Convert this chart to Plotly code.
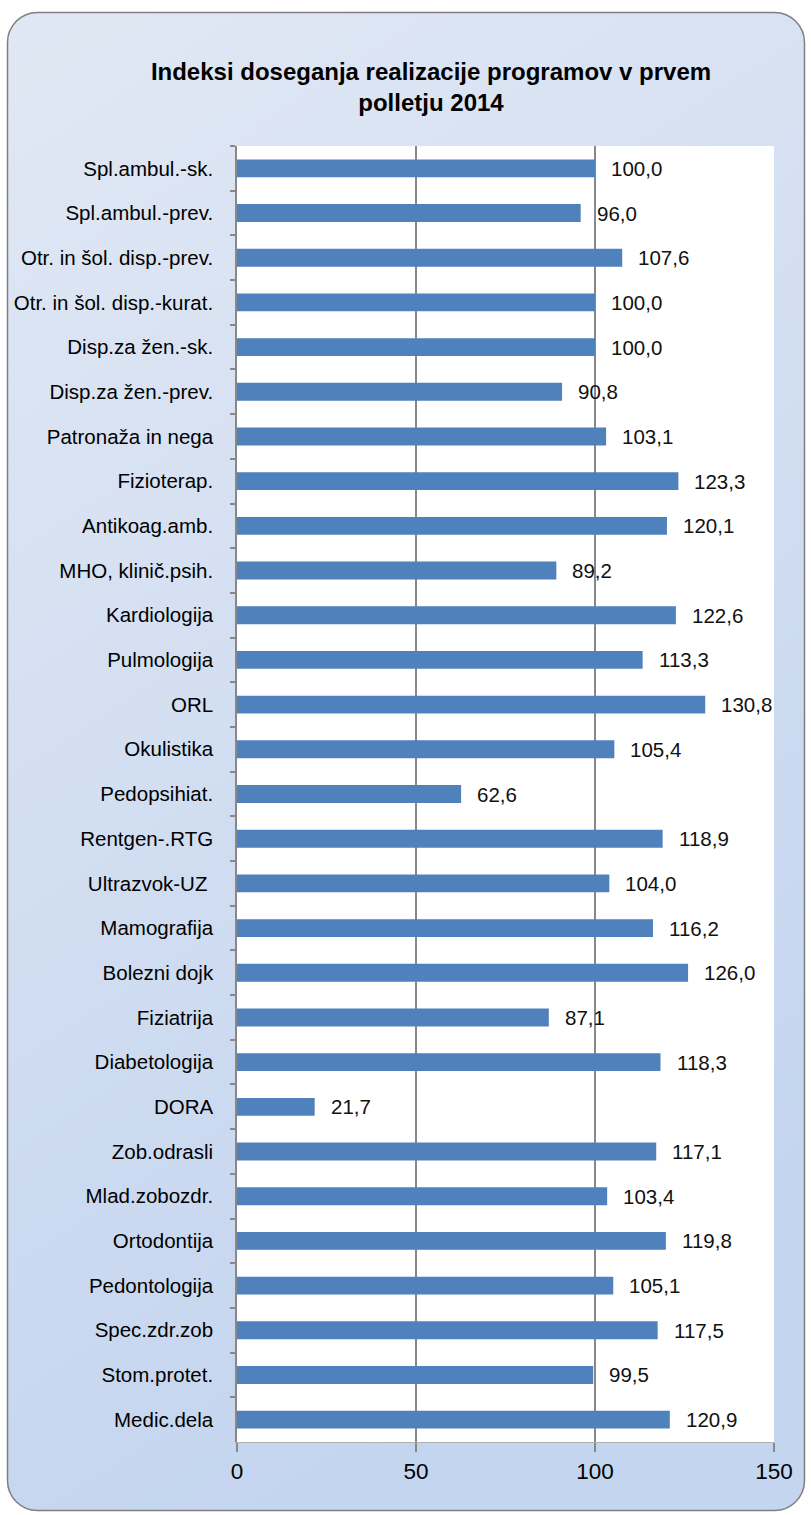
import base64
import plotly.graph_objects as go

categories = [
    "Spl.ambul.-sk.", "Spl.ambul.-prev.", "Otr. in šol. disp.-prev.", "Otr. in šol. disp.-kurat.",
    "Disp.za žen.-sk.", "Disp.za žen.-prev.", "Patronaža in nega", "Fizioterap.",
    "Antikoag.amb.", "MHO, klinič.psih.", "Kardiologija", "Pulmologija", "ORL",
    "Okulistika", "Pedopsihiat.", "Rentgen-.RTG", "Ultrazvok-UZ ", "Mamografija",
    "Bolezni dojk", "Fiziatrija", "Diabetologija", "DORA", "Zob.odrasli",
    "Mlad.zobozdr.", "Ortodontija", "Pedontologija", "Spec.zdr.zob", "Stom.protet.",
    "Medic.dela",
]
values = [
    100.0, 96.0, 107.6, 100.0, 100.0, 90.8, 103.1, 123.3, 120.1, 89.2, 122.6, 113.3,
    130.8, 105.4, 62.6, 118.9, 104.0, 116.2, 126.0, 87.1, 118.3, 21.7, 117.1, 103.4,
    119.8, 105.1, 117.5, 99.5, 120.9,
]
x_ticks = [0, 50, 100, 150]
title = "Indeksi doseganja realizacije programov v prvem<br>polletju 2014"

W, H = 811, 1515
L, R, T, B = 237, 37, 146, 73
FONT = "Liberation Sans, Arial, sans-serif"

svg = f'''<svg xmlns="http://www.w3.org/2000/svg" width="{W}" height="{H}" viewBox="0 0 {W} {H}" preserveAspectRatio="none">
<defs><linearGradient id="g" x1="0" y1="0" x2="0.35" y2="1">
<stop offset="0" stop-color="#e1e8f4"/><stop offset="1" stop-color="#c4d5ef"/></linearGradient></defs>
<rect x="7.5" y="12.5" width="797" height="1498" rx="30" ry="30" fill="url(#g)" stroke="#7f7f7f" stroke-width="1.5"/>
</svg>'''
src = "data:image/svg+xml;base64," + base64.b64encode(svg.encode()).decode()

pw = W - L - R
ph = H - T - B

fig = go.Figure()
fig.add_trace(go.Bar(
    x=values, y=categories, orientation="h",
    marker=dict(color="#4f81bd", line=dict(width=0)),
    hoverinfo="skip",
))

for c, v in zip(categories, values):
    fig.add_annotation(
        x=v, y=c, text=f"{v:.1f}".replace(".", ","), showarrow=False,
        xanchor="left", xshift=14, font=dict(family=FONT, size=20.5, color="#111111"),
    )

fig.update_layout(
    width=W, height=H,
    margin=dict(l=L, r=R, t=T, b=B, pad=0),
    paper_bgcolor="white", plot_bgcolor="rgba(0,0,0,0)",
    bargap=0.6, showlegend=False,
    title=dict(text=title, x=431 / W, xanchor="center", y=1 - 80 / H, yanchor="middle",
               font=dict(family=FONT, size=24, color="#000000", weight="bold")),
    images=[dict(source=src, xref="paper", yref="paper", x=-L / pw, y=1 + T / ph,
                 sizex=W / pw, sizey=H / ph, sizing="stretch", xanchor="left",
                 yanchor="top", layer="below")],
    shapes=[dict(type="rect", xref="paper", yref="paper", x0=0, x1=1, y0=0, y1=1,
                 fillcolor="white", line=dict(width=0), layer="below")],
    xaxis=dict(range=[0, 150], tickvals=x_ticks, ticktext=[str(t) for t in x_ticks],
               showgrid=True, gridcolor="#888888", gridwidth=1.5, zeroline=False,
               showline=True, linecolor="#b0b0b0", linewidth=1,
               ticks="outside", ticklen=9, tickcolor="#888888", tickwidth=1.5,
               tickfont=dict(family=FONT, size=22.5, color="#000000")),
    yaxis=dict(autorange="reversed", type="category", showgrid=False, zeroline=False,
               showline=True, linecolor="#888888", linewidth=1.5,
               ticks="outside", tickson="boundaries", ticklen=5, tickcolor="#888888", tickwidth=1.5,
               tickfont=dict(family=FONT, size=20.5, color="#000000"), ticklabelstandoff=18),
)

fig.write_html("out.html")
